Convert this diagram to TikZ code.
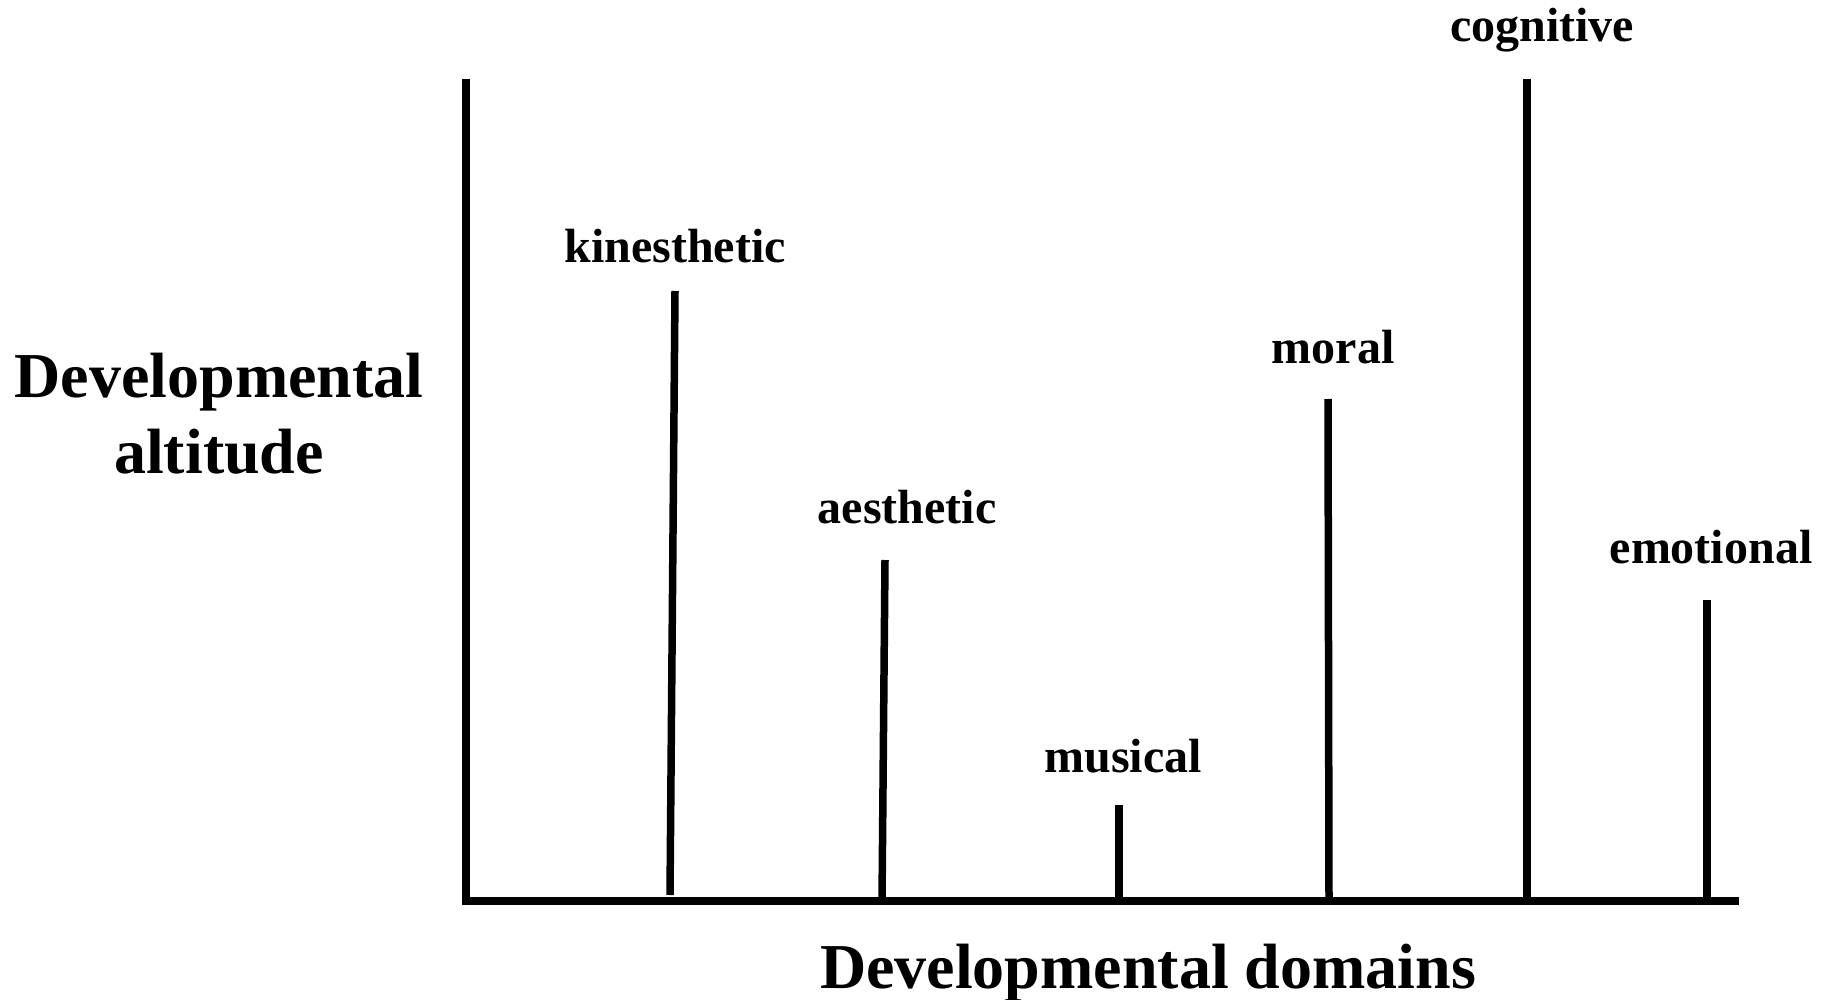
\documentclass[tikz,border=0pt]{standalone}
\usepackage{fontspec}
\setmainfont{Liberation Serif}
\begin{document}
\begin{tikzpicture}[x=1pt,y=-1pt,
  axisline/.style={line width=8pt},
  bar/.style={line width=7.5pt},
  domainlabel/.style={anchor=base,inner sep=0pt,font=\bfseries\fontsize{48}{56}\selectfont},
  axislabel/.style={anchor=base,inner sep=0pt,font=\bfseries\fontsize{64}{76}\selectfont}]
\useasboundingbox (0,0) rectangle (1828,1000);

% axes
\coordinate (top) at (466,79);
\coordinate (origin) at (466,901);
\coordinate (right) at (1739,901);
\draw[axisline] (top) -- (origin) -- (right);

% bars: one per developmental domain
\coordinate (kinTop) at (675,291);  \coordinate (kinBot) at (670,895);
\coordinate (aesTop) at (885,560);  \coordinate (aesBot) at (882,901);
\coordinate (musTop) at (1119,805); \coordinate (musBot) at (1119,901);
\coordinate (morTop) at (1328,399); \coordinate (morBot) at (1329,901);
\coordinate (cogTop) at (1527,79);  \coordinate (cogBot) at (1527,901);
\coordinate (emoTop) at (1707,600); \coordinate (emoBot) at (1707,901);
\foreach \b in {kin,aes,mus,mor,cog,emo}
  \draw[bar] (\b Top) -- (\b Bot);

% domain labels
\node[domainlabel] (kinLabel) at (675,263) {kinesthetic};
\node[domainlabel] (aesLabel) at (907,523) {aesthetic};
\node[domainlabel] (musLabel) at (1123,772) {musical};
\node[domainlabel] (morLabel) at (1333,363) {moral};
\node[domainlabel] (cogLabel) at (1542,42) {cognitive};
\node[domainlabel] (emoLabel) at (1711,563) {emotional};

% axis titles
\node[axislabel] (yLabel1) at (219,397) {Developmental};
\node[axislabel] (yLabel2) at (219,473) {altitude};
\node[axislabel] (xLabel) at (1148,988) {Developmental domains};
\end{tikzpicture}
\end{document}
